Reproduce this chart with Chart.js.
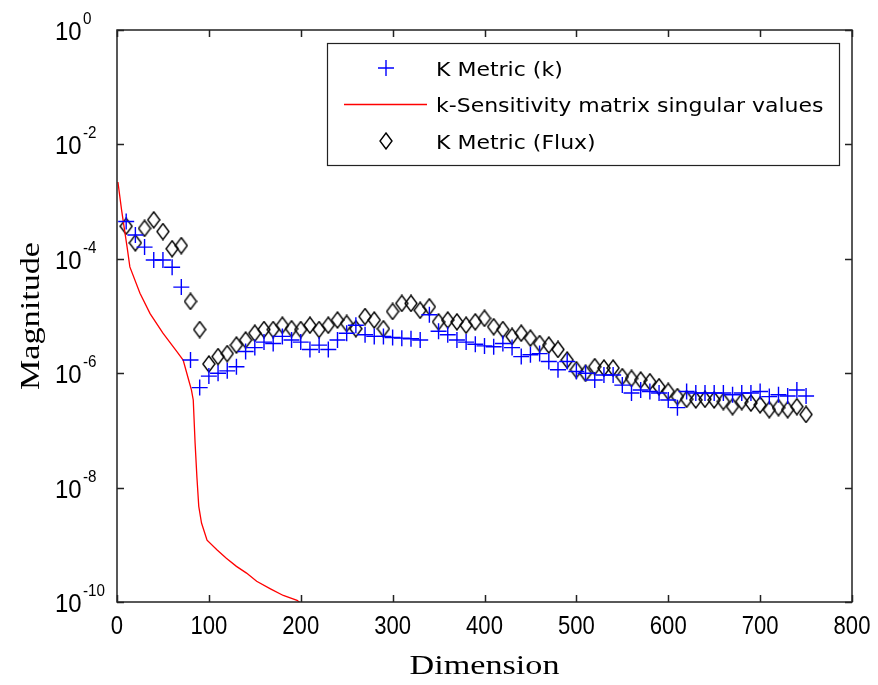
<!DOCTYPE html>
<html>
<head>
<meta charset="utf-8">
<script src="https://cdn.jsdelivr.net/npm/chart.js@4.4.1/dist/chart.umd.min.js"></script>
<style>
  html, body { margin: 0; padding: 0; background: #fff; }
</style>
</head>
<body>
<canvas id="chart" width="878" height="685"></canvas>
<script>
// dimension index shared by both K metric series
const dims = [10, 20, 30, 40, 50, 60, 70, 80, 90, 100, 110, 120, 130, 140, 150, 160, 170, 180, 190, 200,
              210, 220, 230, 240, 250, 260, 270, 280, 290, 300, 310, 320, 330, 340, 350, 360, 370, 380, 390, 400,
              410, 420, 430, 440, 450, 460, 470, 480, 490, 500, 510, 520, 530, 540, 550, 560, 570, 580, 590, 600,
              610, 620, 630, 640, 650, 660, 670, 680, 690, 700, 710, 720, 730, 740, 750];

// K Metric (k) - blue plus
const kMetric = [4.5e-4, 2.6e-4, 1.6e-4, 9.5e-5, 9.5e-5, 7.1e-5, 3.2e-5, 1.7e-6, 5.6e-7, 8.9e-7,
                 1.0e-6, 1.1e-6, 1.3e-6, 2.4e-6, 2.8e-6, 3.5e-6, 3.3e-6, 4.4e-6, 3.8e-6, 3.5e-6,
                 2.6e-6, 3.1e-6, 2.6e-6, 3.8e-6, 5.0e-6, 6.9e-6, 4.7e-6, 4.4e-6, 4.4e-6, 4.2e-6,
                 4.1e-6, 4.0e-6, 3.8e-6, 1.05e-5, 5.4e-6, 4.7e-6, 3.8e-6, 3.5e-6, 3.2e-6, 3.0e-6,
                 2.9e-6, 3.3e-6, 2.8e-6, 1.95e-6, 2.1e-6, 2.2e-6, 1.6e-6, 1.15e-6, 1.6e-6, 1.07e-6,
                 1.0e-6, 7.6e-7, 9.3e-7, 9.3e-7, 6.2e-7, 4.5e-7, 5.1e-7, 4.8e-7, 4.5e-7, 3.4e-7,
                 2.5e-7, 4.8e-7, 4.5e-7, 4.5e-7, 4.5e-7, 4.5e-7, 4.2e-7, 4.5e-7, 4.5e-7, 4.8e-7,
                 3.9e-7, 4.2e-7, 4.0e-7, 5.1e-7, 4.0e-7];

// K Metric (Flux) - black diamond
const fluxMetric = [3.7e-4, 1.9e-4, 3.4e-4, 4.8e-4, 3.0e-4, 1.5e-4, 1.7e-4, 1.8e-5, 5.8e-6, 1.45e-6,
                    1.95e-6, 2.2e-6, 3.1e-6, 3.8e-6, 5.0e-6, 5.8e-6, 5.8e-6, 6.9e-6, 6.0e-6, 5.8e-6,
                    6.9e-6, 5.8e-6, 6.9e-6, 8.5e-6, 7.4e-6, 6.0e-6, 9.8e-6, 8.5e-6, 6.0e-6, 1.2e-5,
                    1.66e-5, 1.66e-5, 1.26e-5, 1.45e-5, 7.9e-6, 8.5e-6, 7.9e-6, 6.9e-6, 7.9e-6, 9.1e-6,
                    6.5e-6, 5.8e-6, 4.4e-6, 5.0e-6, 4.1e-6, 3.3e-6, 3.1e-6, 2.6e-6, 1.7e-6, 1.15e-6,
                    1.0e-6, 1.3e-6, 1.23e-6, 1.23e-6, 8.7e-7, 8.1e-7, 7.6e-7, 7.1e-7, 5.8e-7, 4.8e-7,
                    3.9e-7, 3.5e-7, 3.4e-7, 3.5e-7, 3.4e-7, 3.2e-7, 2.6e-7, 3.2e-7, 3.0e-7, 2.8e-7,
                    2.3e-7, 2.5e-7, 2.3e-7, 2.6e-7, 1.9e-7];

// k-Sensitivity matrix singular values - red line
const svDims = [1, 5, 11, 14, 25, 36, 50, 65, 72, 78, 81, 83, 85, 87, 89, 92, 98, 109, 119, 130, 141, 152, 167, 181, 196, 200];
const svValues = [2.2e-3, 7.1e-4, 1.6e-4, 7.2e-5, 2.5e-5, 1.1e-5, 5.0e-6, 2.4e-6, 1.7e-6, 7.6e-7, 5.1e-7, 3.4e-7, 6.0e-8,
                  1.5e-8, 4.7e-9, 2.4e-9, 1.2e-9, 8.1e-10, 5.8e-10, 4.2e-10, 3.2e-10, 2.3e-10, 1.7e-10, 1.3e-10, 1.07e-10, 9.5e-11];

const xTicks = [0, 100, 200, 300, 400, 500, 600, 700, 800];
const yTickExps = [0, -2, -4, -6, -8, -10];
const seriesNames = ['K Metric (k)', 'k-Sensitivity matrix singular values', 'K Metric (Flux)'];
const xTitle = 'Dimension';
const yTitle = 'Magnitude';

// tall hollow diamond marker like the MATLAB one
function makeDiamond() {
    const c = document.createElement('canvas');
    c.width = 14; c.height = 18;
    const g = c.getContext('2d');
    g.strokeStyle = '#000';
    g.lineWidth = 1.4;
    g.beginPath();
    g.moveTo(7, 1);
    g.lineTo(13, 9);
    g.lineTo(7, 17);
    g.lineTo(1, 9);
    g.closePath();
    g.stroke();
    return c;
}
const diamond = makeDiamond();

// text drawn with a horizontal stretch (the original uses bitmap fonts)
function wideText(ctx, str, x, y, font, sx, align) {
    ctx.save();
    ctx.font = font;
    ctx.textAlign = align || 'left';
    ctx.textBaseline = 'alphabetic';
    ctx.translate(x, y);
    ctx.scale(sx, 1);
    ctx.fillText(str, 0, 0);
    ctx.restore();
}

const framePlugin = {
    id: 'frame',
    afterDraw(chart) {
        const { ctx, chartArea: a, scales: { x, y } } = chart;
        ctx.save();
        ctx.fillStyle = '#000';
        ctx.strokeStyle = '#222';
        ctx.lineWidth = 1.5;
        ctx.strokeRect(a.left, a.top, a.right - a.left, a.bottom - a.top);

        // inward ticks on all four sides
        ctx.beginPath();
        xTicks.forEach(v => {
            const px = Math.round(x.getPixelForValue(v)) + 0.5;
            ctx.moveTo(px, a.bottom); ctx.lineTo(px, a.bottom - 7);
            ctx.moveTo(px, a.top); ctx.lineTo(px, a.top + 7);
        });
        yTickExps.forEach(e => {
            const py = Math.round(y.getPixelForValue(Math.pow(10, e))) + 0.5;
            ctx.moveTo(a.left, py); ctx.lineTo(a.left + 7, py);
            ctx.moveTo(a.right, py); ctx.lineTo(a.right - 7, py);
        });
        ctx.stroke();

        // x tick labels
        xTicks.forEach(v => {
            wideText(ctx, String(v), x.getPixelForValue(v), a.bottom + 32, '26px "Liberation Sans"', 0.85, 'center');
        });
        // y tick labels 10^n
        yTickExps.forEach(e => {
            const py = y.getPixelForValue(Math.pow(10, e));
            wideText(ctx, '10', 55, py + 10, '26px "Liberation Sans"', 0.92, 'left');
            wideText(ctx, String(e), 83, py - 6, '16px "Liberation Sans"', 0.95, 'left');
        });

        // axis titles
        wideText(ctx, xTitle, (a.left + a.right) / 2, 674, '28px "Liberation Serif"', 1.22, 'center');
        ctx.save();
        ctx.translate(39, (a.top + a.bottom) / 2);
        ctx.rotate(-Math.PI / 2);
        wideText(ctx, yTitle, 0, 0, '28px "Liberation Serif"', 1.22, 'center');
        ctx.restore();

        // legend box
        const lx = 327, ly = 43, lw = 512, lh = 122;
        ctx.fillStyle = '#fff';
        ctx.fillRect(lx, ly, lw, lh);
        ctx.lineWidth = 1.2;
        ctx.strokeStyle = '#222';
        ctx.strokeRect(lx + 0.5, ly + 0.5, lw, lh);
        const rows = [68, 104, 141];
        // plus
        ctx.strokeStyle = '#0000ff';
        ctx.lineWidth = 1.4;
        ctx.beginPath();
        ctx.moveTo(378, rows[0]); ctx.lineTo(394, rows[0]);
        ctx.moveTo(386, rows[0] - 8); ctx.lineTo(386, rows[0] + 8);
        ctx.stroke();
        // red line
        ctx.strokeStyle = '#ff0000';
        ctx.lineWidth = 1.3;
        ctx.beginPath();
        ctx.moveTo(344, rows[1] + 0.5); ctx.lineTo(427, rows[1] + 0.5);
        ctx.stroke();
        // diamond
        ctx.drawImage(diamond, 386 - 7, rows[2] - 9);
        ctx.fillStyle = '#000';
        seriesNames.forEach((name, i) => {
            wideText(ctx, name, 436, rows[i] + 8, '20px "DejaVu Sans"', 1.1, 'left');
        });
        ctx.restore();
    }
};

const ctx = document.getElementById('chart').getContext('2d');
new Chart(ctx, {
    type: 'scatter',
    data: {
        datasets: [
            {
                label: seriesNames[0],
                data: dims.map((d, i) => ({ x: d, y: kMetric[i] })),
                pointStyle: 'cross',
                pointRadius: 8,
                borderColor: '#0000ff',
                borderWidth: 1.4,
                showLine: false
            },
            {
                label: seriesNames[1],
                data: svDims.map((d, i) => ({ x: d, y: svValues[i] })),
                borderColor: '#ff0000',
                borderWidth: 1.3,
                pointRadius: 0,
                showLine: true,
                tension: 0
            },
            {
                label: seriesNames[2],
                data: dims.map((d, i) => ({ x: d, y: fluxMetric[i] })),
                pointStyle: diamond,
                pointRadius: 8,
                showLine: false
            }
        ]
    },
    options: {
        responsive: false,
        animation: false,
        devicePixelRatio: 1,
        layout: { padding: { left: 117, right: 26, top: 30, bottom: 83 } },
        plugins: {
            legend: { display: false },
            tooltip: { enabled: false }
        },
        scales: {
            x: { type: 'linear', min: 0, max: 800, display: false },
            y: { type: 'logarithmic', min: 1e-10, max: 1, display: false }
        }
    },
    plugins: [framePlugin]
});
</script>
</body>
</html>
